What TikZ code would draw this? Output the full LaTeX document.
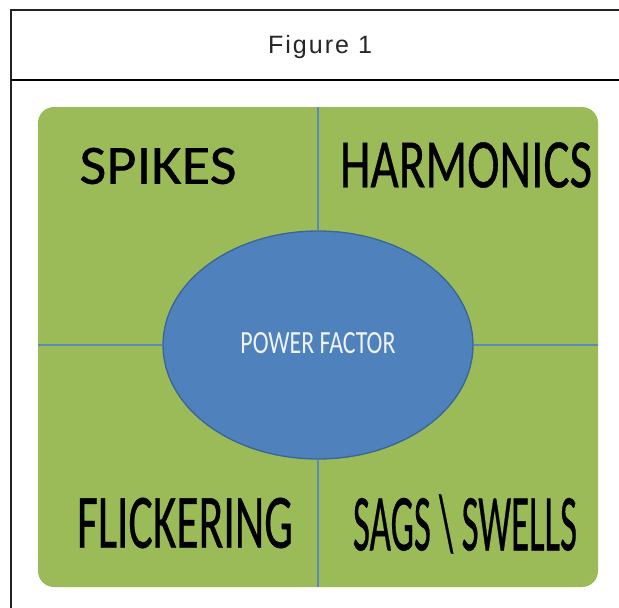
\documentclass[tikz,border=0pt]{standalone}
\usepackage{fontspec}
\usepackage{graphicx}
\usetikzlibrary{shapes.geometric}
\newfontfamily\labelfont[FakeBold=0.6]{Carlito}
\newfontfamily\ovalfont{Carlito}
\newfontfamily\titlefont[LetterSpace=8]{Liberation Sans}
\definecolor{panelgreen}{HTML}{9BBB59}
\definecolor{pfblue}{HTML}{4F81BD}
\definecolor{pfedge}{HTML}{3A6597}
\definecolor{divider}{HTML}{5A8AB5}
\definecolor{pftext}{HTML}{EEF3F8}
\definecolor{framegray}{HTML}{222222}
\tikzset{
  panel/.style={rectangle, fill=panelgreen, rounded corners=16pt, inner sep=0pt,
    minimum width=560pt, minimum height=480pt},
  pfoval/.style={ellipse, fill=pfblue, draw=pfedge, line width=1.3pt, inner sep=0pt,
    minimum width=310pt, minimum height=228pt},
  divline/.style={draw=divider, line width=1.2pt},
  quadlabel/.style={inner sep=0pt, text=black},
  frameline/.style={draw=framegray, line width=1.6pt},
}
\begin{document}
\begin{tikzpicture}[x=1pt, y=-1pt]
  \useasboundingbox (0,0) rectangle (619,608);
  \fill[white] (0,0) rectangle (619,608);

  % table frame: open on the right and at the bottom
  \coordinate (ftl) at (11,10);
  \coordinate (ftr) at (619,10);
  \coordinate (fbl) at (11,608);
  \coordinate (fsl) at (11,80);
  \coordinate (fsr) at (619,80);
  \draw[frameline] (ftr) -- (ftl) -- (fbl);
  \draw[draw=black, line width=2.6pt] (fsl) -- (fsr);
  \node[inner sep=0pt, text=black!85] (title) at (320,47)
    {\resizebox{104pt}{!}{\titlefont Figure 1}};

  % green panel with the central oval
  \node[panel] (panel) at (318,347) {};
  \node[pfoval] (pf) at (318,345) {};
  \node[inner sep=0pt, text=pftext] (pflabel) at (318,343)
    {\resizebox{155pt}{21pt}{\ovalfont POWER FACTOR}};

  % dividers from the panel edges to the oval
  \coordinate (ptop) at (318,107);
  \coordinate (pbot) at (318,587);
  \coordinate (pleft) at (38,345);
  \coordinate (pright) at (598,345);
  \draw[divline] (ptop) -- (pf.north);
  \draw[divline] (pbot) -- (pf.south);
  \draw[divline] (pleft) -- (pf.west);
  \draw[divline] (pright) -- (pf.east);

  % quadrant labels
  \node[quadlabel] (spikes) at (158,166) {\resizebox{157pt}{36pt}{\labelfont SPIKES}};
  \node[quadlabel] (harm) at (466,165) {\resizebox{252pt}{45pt}{\labelfont HARMONICS}};
  \node[quadlabel] (flick) at (185,523) {\resizebox{216pt}{50pt}{\labelfont FLICKERING}};
  \node[quadlabel] (sags) at (465,524) {\resizebox{224pt}{56pt}{\labelfont SAGS \textbackslash{} SWELLS}};
\end{tikzpicture}
\end{document}
